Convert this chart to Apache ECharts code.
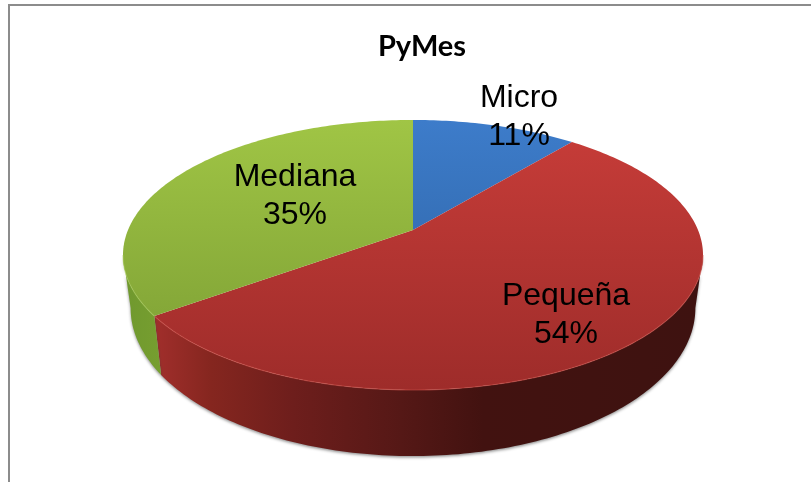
<!DOCTYPE html>
<html><head><meta charset="utf-8">
<style>html,body{margin:0;padding:0;background:#fff}#c{width:811px;height:482px}</style>
<script src="https://cdn.jsdelivr.net/npm/echarts@6/dist/echarts.min.js"></script>
</head><body><div id="c"></div>
<script>
const categories = ['Micro', 'Pequeña', 'Mediana'];
const shares = [11, 54, 35];
const chartTitle = 'PyMes';

// 3D look of the pie: a perspective projection of the unit circle
const view = {x: 413, yTop: 230, yBase: 280.6, aTop: 285, aBase: 277.5, bTop: 130.4, bBase: 143, k: 0.185};
const labelCentres = [[519, 117], [566, 315], [295, 196]];
const topFills = [['#3d7cca', '#2a5e9c'], ['#c83d39', '#9e2c2a'], ['#a0c545', '#7a9c33']];
const wallStops = [
  [[0, '#2a5e9c'], [1, '#1c406c']],
  [[0, '#a02e2b'], [0.1, '#85261f'], [0.25, '#6e1e1c'], [0.45, '#551816'], [0.6, '#421210'], [1, '#3e1210']],
  [[0, '#6f982e'], [1, '#779f30']]
];

const project = (deg, base) => {
  const t = deg * Math.PI / 180, u = Math.sin(t), v = -Math.cos(t), w = 1 - view.k * v;
  return base
    ? [view.x + view.aBase * u / w, view.yBase + view.bBase * v / w]
    : [view.x + view.aTop * u / w, view.yTop + view.bTop * v / w];
};
const arc = (a, b, base) => {
  const pts = [], n = Math.max(2, Math.ceil(Math.abs(b - a)));
  for (let i = 0; i <= n; i++) pts.push(project(a + (b - a) * i / n, base));
  return pts;
};
const total = shares.reduce((s, v) => s + v, 0);
const edgeR = 100.7, edgeL = 259.3; // where the wall's silhouette meets the rim

const renderItem = (params, api) => {
  const i = params.dataIndex;
  const before = shares.slice(0, i).reduce((s, v) => s + v, 0);
  const a0 = before / total * 360, a1 = (before + api.value(1)) / total * 360;
  const kids = [];
  const wa = Math.max(a0, edgeR), wb = Math.min(a1, edgeL);
  if (wb > wa) {
    const top = arc(wa, wb, false), bottom = arc(wa, wb, true);
    kids.push({
      type: 'polygon',
      shape: {points: top.concat(bottom.reverse())},
      style: {
        fill: {type: 'linear', x: i === 1 ? 157 : 120, y: 0, x2: i === 1 ? 700 : 165, y2: 0, global: true,
          colorStops: wallStops[i].map(s => ({offset: s[0], color: s[1]}))},
        shadowColor: 'rgba(60,60,60,0.55)', shadowBlur: 3, shadowOffsetY: 1.5
      }
    });
  }
  const rim = arc(a0, a1, false);
  kids.push({
    type: 'polygon',
    shape: {points: [[view.x, view.yTop]].concat(rim)},
    style: {
      fill: {type: 'linear', x: 0, y: 120, x2: 0, y2: 390, global: true,
        colorStops: [{offset: 0, color: topFills[i][0]}, {offset: 1, color: topFills[i][1]}]}
    }
  });
  if (wb > wa) {
    kids.push({
      type: 'polyline',
      shape: {points: arc(wa, wb, false)},
      style: {fill: 'none', stroke: i === 1 ? 'rgba(206,80,72,0.55)' : 'rgba(170,205,90,0.5)', lineWidth: 1.2}
    });
  }
  kids.push({
    type: 'text', z2: 10,
    style: {
      text: api.value(0) + '\n' + api.value(1) + '%',
      x: labelCentres[i][0], y: labelCentres[i][1],
      align: 'center', verticalAlign: 'middle',
      fontFamily: '"Liberation Sans", Arial, sans-serif', fontSize: 32, lineHeight: 38,
      fill: '#000'
    }
  });
  return {type: 'group', children: kids};
};

const chart = echarts.init(document.getElementById('c'), null, {renderer: 'canvas'});
chart.setOption({
  animation: false,
  backgroundColor: '#fff',
  title: {
    text: chartTitle, left: 417, top: 27, textAlign: 'center',
    textStyle: {fontFamily: 'Lato, sans-serif', fontWeight: 'bold', fontSize: 29, color: '#000'}
  },
  graphic: [
    {type: 'rect', shape: {x: 8, y: 4, width: 803, height: 2}, style: {fill: '#8c8c8c'}},
    {type: 'rect', shape: {x: 8, y: 4, width: 2, height: 478}, style: {fill: '#8c8c8c'}}
  ],
  series: [{
    type: 'custom',
    coordinateSystem: 'none',
    renderItem,
    data: categories.map((c, i) => [c, shares[i]]),
    encode: {itemName: 0, value: 1},
    silent: true
  }]
});
</script></body></html>
